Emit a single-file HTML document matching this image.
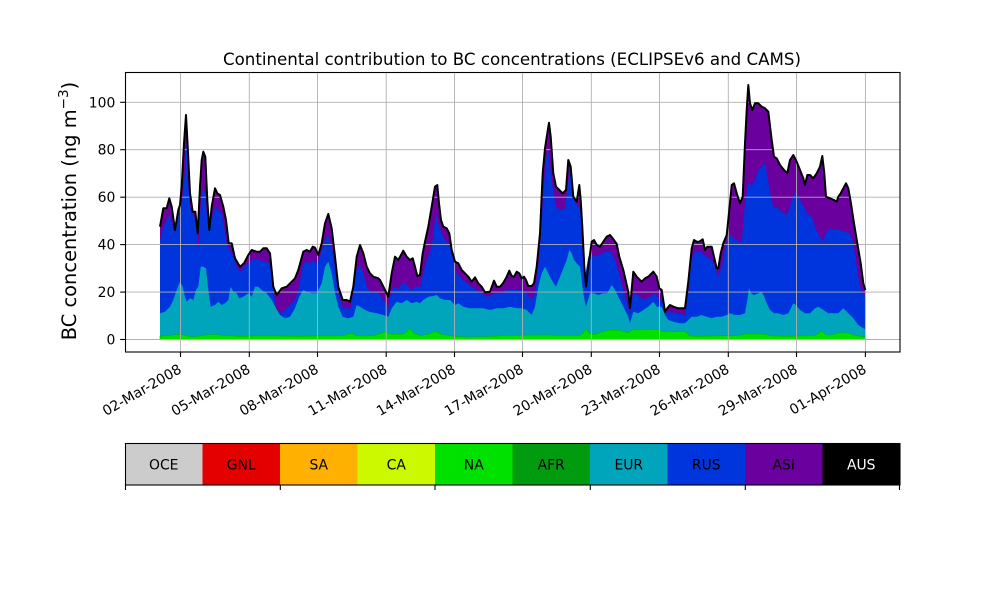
<!DOCTYPE html>
<html>
<head>
<meta charset="utf-8">
<style>
html,body{margin:0;padding:0;background:#fff;}
svg{display:block;}
text{font-family:"DejaVu Sans","Liberation Sans",sans-serif;}
</style>
</head>
<body>
<svg width="1000" height="600" viewBox="0 0 1000 600" xmlns="http://www.w3.org/2000/svg">
<rect x="0" y="0" width="1000" height="600" fill="#fff"/>

<!-- title -->
<text x="512" y="65" font-size="16.67" text-anchor="middle" fill="#000">Continental contribution to BC concentrations (ECLIPSEv6 and CAMS)</text>

<!-- stacked areas -->
<g>
<path fill="#6a009d" d="M160,339.5 L160,226.7 163.3,208.3 166.7,208.3 169.3,198.3 171.7,206.7 175,230 178.3,210 180,205 181.7,186.7 184,143.3 186,115 187.7,146.7 190,193.3 192.7,211.7 195.3,211.7 197.7,233.3 200,186.7 201.7,160 203.3,151.7 205.3,156.7 207.3,200 209.3,230 211.7,206.7 215,188.3 217.3,193.3 220,195 223.3,206.7 226,220 228.7,243.3 231.7,243.3 235,258.3 240,266.7 244,263.3 248.3,255 251.7,250 256.7,251.7 260,251.7 263.3,248.3 266.7,248.3 270,253.3 273.3,286.7 276.7,295 281.7,288.3 286.7,286.7 291.7,281.7 295,278.3 298.3,270 303.3,251.7 306.7,250 310,251.7 312.7,246.7 315,247.7 318.3,255 321.7,243.3 325,223.3 328.3,214 331.7,228.3 335,256.7 338.3,286.7 342.7,300 346.7,300 350,301.7 353.3,286.7 356.7,256.7 360,245 363.3,253.3 366.7,266.7 370,273.3 373.3,276.7 378.3,278.3 380,280 385,290 388.3,296.7 391.7,273.3 395,256.7 398.3,260 403.3,250.7 406.7,256.7 410,260 412.7,258.3 415,266.7 417.3,276 420,275 422.7,253.3 425,241.7 428.3,226.7 431.7,206.7 435,186.7 437.3,185 439,203.3 441,220 443.3,226.7 446.7,228.3 449.3,233.3 451.7,250 455,261.7 458.3,263.3 461.7,270 465,273.3 468.3,276.7 471.7,281.7 475,277.3 478.3,283.3 481.7,286.7 485,292.3 490,291.7 494,280.7 496.7,286.7 500,286.7 503.3,282.7 506.7,276.7 509.3,270.7 511.7,276 514,276.7 516.7,271.7 519.3,273.3 521.7,278.3 524,276.7 526,280 528.3,286 531.7,286 534,283.3 536.7,266.7 540,233.3 542.7,173.3 545,148.3 547.3,133.3 549,122.7 550.7,136.7 553.3,173.3 556,186.7 559.3,190 562.7,193.3 566,190 568.3,160 570.7,166.7 573.3,196.7 576.7,201.7 579.3,185 580.7,200 582.3,226.7 584.3,266.7 586,286.7 588.3,266.7 591.7,241.7 594,240 596.7,245 600,246.7 603.3,241.7 606.7,236.7 610,235 612.7,238.3 616.7,244 619.3,256.7 623.3,270 628.3,291.7 630,308 633.3,271.7 636.7,276.7 641.7,281.7 645,278.3 648.3,276.7 653.3,271.7 656.7,276.7 659.3,288.3 661.7,290 665,311.7 667.3,308.3 670,305 673.3,306.7 678.3,308.3 685,308.3 688.3,281.7 691.7,248.3 694,240 696.7,241.7 699.3,241.7 702.7,239.3 705,250 707.3,246.7 711.7,246.7 714,256.7 716.7,268.3 718.3,268.3 720.7,253.3 723.3,243.3 726.7,235 729.3,210 731.7,185 734,183.3 736.7,193.3 740,203.3 742.7,196.7 745,143.3 746.7,110 748.3,85 750,103.3 752.3,110 755,103.3 758.3,103.3 761.7,106.7 765,108.3 768.3,111.7 771.7,140 774,156.7 776.7,158.3 780,165 784,170 787.3,173.3 790,160 793.3,155 796.7,161.7 800,170 803.3,178.3 805,185 807.3,175 810,175 813.3,178.3 816.7,173.3 820,166.7 822.3,156 824.3,173.3 826,196.7 830,198.3 834,200 836.7,201.7 838.3,196.7 840.7,193.3 843.3,188.3 846,183.3 848.3,188.3 850.7,201.7 854,223.3 857.3,243.3 860.7,263.3 863.3,283.3 865.3,290 L865.3,339.5 Z"/>
<path fill="#0035dd" d="M160,339.5 L160,241.7 163.3,228.3 166.7,220 169.3,215 171.7,223.3 175,233.3 178.3,216.7 180,211.7 181.7,206.7 183.3,190 185,170 186.7,140 188.3,186.7 190,206.7 191.7,211.7 194,216.7 196.7,230 198.7,248.3 200,216.7 201.7,196.7 203.3,186.7 205,193.3 207.3,220 209.3,230 211.7,220 215,206.7 218.3,210 221.7,213.3 225,233.3 227.3,246.7 230,250 233.3,256.7 236.7,266.7 240,271.7 244,266.7 248.3,263.3 251.7,260 255,259.3 260,260 265,261.7 270,263.3 273.3,290 276.7,310 281.7,313.3 286.7,308.3 291.7,303.3 295,300 298.3,290 303.3,263.3 306.7,261.7 310,263.3 313.3,260 316.7,263.3 320,256.7 325,240 328.3,235 331.7,246.7 335,266.7 338.3,293.3 342.7,308.3 346.7,306.7 350,310 353.3,293.3 356.7,270 360,265 363.3,273.3 366.7,286.7 371.7,293.3 376.7,291.7 380,295 383.3,300 388.3,308.3 391.7,290 395,286.7 398.3,290 401.7,283.3 405,283.3 408.3,286.7 411.7,290 415,286.7 420,286.7 423.3,273.3 426.7,260 430,253.3 433.3,236.7 435.7,213.3 438.3,223.3 441.7,233.3 445,240 450,246.7 453.3,260 456.7,273.3 461.7,278.3 466.7,283.3 471.7,286.7 476.7,290 481.7,293.3 486.7,296.7 491.7,295 496.7,293.3 501.7,293.3 506.7,290 511.7,290 516.7,290 521.7,290 526.7,293.3 531.7,300 535,293.3 538.3,266.7 540.7,240 543.3,193.3 546,160 547.7,146.7 550,166.7 552.7,186.7 556,206.7 560,210 565,208.3 568.3,183.3 570,170 572.7,193.3 575,200 577.3,206.7 580,206.7 582.3,233.3 585,276.7 588.3,256.7 591.7,255 596.7,256.7 601.7,253.3 606.7,251.7 610.7,251.7 615,260 620,276.7 625,296.7 630,313.3 633.3,293.3 638.3,295 643.3,300 650,296.7 655,293.3 660,300 663.3,303.3 665,313.3 670,311.7 676.7,313.3 685,315 688.3,293.3 691.7,260 695,251.7 700,251.7 702.7,253.3 706.7,256.7 711.7,260 715,266.7 718.3,276.7 721.7,266.7 725,250 728.3,233.3 731.7,236.7 736.7,240 741.7,243.3 745,203.3 748.3,183.3 751.7,185 755,180 758.3,170 761.7,166.7 765,163.3 768.3,183.3 771.7,200 774,208.3 776.7,206.7 781.7,211.7 786.7,215 790,206.7 793.3,196.7 796,190 800,200 804,206.7 806.7,213.3 811.7,216.7 816,230 820,236.7 822.7,241.7 826.7,231.7 830,228.3 835,230 840,230 845,231.7 850,233.3 853.3,243.3 856.7,266.7 860,286.7 863.3,293.3 865.3,296.7 L865.3,339.5 Z"/>
<path fill="#00a4bb" d="M160,339.5 L160,313.3 165,311.7 170,306.7 173.3,300 176.7,290 180,281.7 182.7,286.7 185,296.7 186.7,301.7 190,298.3 193.3,300 196,290 198.3,286.7 200.7,266.7 203.3,266.7 206,268.3 208.3,290 210.7,306.7 215,305 218.3,301.7 221.7,305 225,303.3 228.3,300 230.7,286.7 233.3,291.7 236.7,293.3 239.3,298.3 243.3,296.7 248.3,293.3 251.7,296.7 255,286.7 258.3,286.7 261.7,290 266.7,293.3 271.7,300 276,308.3 280,315 285,318.3 290,316.7 295,308.3 299.3,296.7 303.3,290 306.7,291.7 311.7,293.3 316.7,293.3 321.7,283.3 325,266.7 328.3,261.7 331.7,273.3 335,293.3 338.3,306.7 342.7,316.7 348.3,318.3 353.3,316.7 356.7,305 360,306.7 365,310 370,312 376.7,313.3 383.3,315 388.3,316.7 391.7,308.3 396.7,301.7 401.7,303.3 406.7,300 411.7,303.3 416.7,301.7 420,303.3 423.3,300 428.3,296.7 433.3,296 436.7,295 440,298.3 445,300 450,300 455,305 458.3,303.3 463.3,306.7 470,308.3 476.7,308.3 483.3,308.3 490,310 496.7,308.3 503.3,308.3 510,306.7 516.7,308.3 521.7,308.3 526.7,310 531.7,315 535,306.7 538.3,286.7 541.7,273.3 545,266.7 548.3,273.3 551.7,280 556,286.7 560,276.7 564,266.7 566.7,260 569.3,250 571.7,253.3 574,260 576.7,263.3 580,266.7 583.3,293.3 586,306.7 590,293.3 594,293.3 598.3,295 603.3,293.3 607.3,293.3 611.7,285 615,290 618.3,296.7 623.3,306.7 628.3,316.7 630,323.3 633.3,311.7 638.3,313.3 643.3,310 648.3,306.7 653.3,301.7 656.7,306.7 661.7,306.7 665,315 668.3,320 673.3,321.7 680,323.3 685,323.3 688.3,320 691.7,316.7 696.7,316.7 701.7,315 706.7,316.7 711.7,318.3 716.7,316.7 721.7,316.7 726.7,315 730,313.3 735,315 740,315 745,313.3 747.3,300 749,288.3 751,293.3 754,295 758.3,293.3 761.7,291.7 764.3,296.7 766.7,303.3 770,310 774,313.3 778.3,313.3 783.3,315 788.3,313.3 793.3,303.3 796,305 800,310 805,313.3 810,313.3 815,308.3 818.3,306.7 823.3,310 828.3,313.3 833.3,313.3 838.3,313.3 843.3,308.3 848.3,313.3 853.3,318.3 858.3,325 863.3,328.3 865.3,329.3 L865.3,339.5 Z"/>
<path fill="#00e100" stroke="#00b400" stroke-width="0.6" d="M160,339.5 L160,336.3 166,335.8 173,335 180,334.3 186,335.5 192,337 197,336.3 205,335 215,334.5 225,335.5 240,336.3 260,335.8 280,336 300,336.3 320,335.8 335,336 345,335.2 352,333 356,335.5 365,336 375,335.3 385,331.7 390,334 400,334.5 405,333 410,328.5 414,333.5 420,335.5 428,334.5 433,332 437,331.7 442,334.5 455,336.3 470,337 490,336.5 505,335.5 520,335.2 535,335 550,335 565,335.5 580,335.2 584,332 586,328.5 589,333 595,334.5 603,331.5 610,330 620,330.5 628,332.8 632,330 645,329.5 658,329.5 662,331.5 675,331.5 686,332 690,336 700,336.3 720,335.8 740,335.3 745,334 755,334 765,334.3 772,335.8 785,336.3 800,336 815,335.5 822,331 826,335 832,335 838,333 845,332.5 852,334.5 860,336.3 865.3,337 L865.3,339.5 Z"/>
<rect x="160" y="339" width="705.3" height="1.3" fill="#d6cc88"/>
</g>

<!-- grid -->
<g stroke="#b0b0b0" stroke-width="0.9" fill="none">
<line x1="180.5" y1="72" x2="180.5" y2="352"/>
<line x1="249.3" y1="72" x2="249.3" y2="352"/>
<line x1="317.5" y1="72" x2="317.5" y2="352"/>
<line x1="386.2" y1="72" x2="386.2" y2="352"/>
<line x1="454.5" y1="72" x2="454.5" y2="352"/>
<line x1="522.5" y1="72" x2="522.5" y2="352"/>
<line x1="591.3" y1="72" x2="591.3" y2="352"/>
<line x1="659.5" y1="72" x2="659.5" y2="352"/>
<line x1="728.3" y1="72" x2="728.3" y2="352"/>
<line x1="796.5" y1="72" x2="796.5" y2="352"/>
<line x1="865.4" y1="72" x2="865.4" y2="352"/>
<line x1="125" y1="339.5" x2="900" y2="339.5"/>
<line x1="125" y1="292.1" x2="900" y2="292.1"/>
<line x1="125" y1="244.6" x2="900" y2="244.6"/>
<line x1="125" y1="197.2" x2="900" y2="197.2"/>
<line x1="125" y1="149.7" x2="900" y2="149.7"/>
<line x1="125" y1="102.3" x2="900" y2="102.3"/>
</g>

<!-- total line -->
<polyline fill="none" stroke="#000" stroke-width="2" stroke-linejoin="round" points="160,226.7 163.3,208.3 166.7,208.3 169.3,198.3 171.7,206.7 175,230 178.3,210 180,205 181.7,186.7 184,143.3 186,115 187.7,146.7 190,193.3 192.7,211.7 195.3,211.7 197.7,233.3 200,186.7 201.7,160 203.3,151.7 205.3,156.7 207.3,200 209.3,230 211.7,206.7 215,188.3 217.3,193.3 220,195 223.3,206.7 226,220 228.7,243.3 231.7,243.3 235,258.3 240,266.7 244,263.3 248.3,255 251.7,250 256.7,251.7 260,251.7 263.3,248.3 266.7,248.3 270,253.3 273.3,286.7 276.7,295 281.7,288.3 286.7,286.7 291.7,281.7 295,278.3 298.3,270 303.3,251.7 306.7,250 310,251.7 312.7,246.7 315,247.7 318.3,255 321.7,243.3 325,223.3 328.3,214 331.7,228.3 335,256.7 338.3,286.7 342.7,300 346.7,300 350,301.7 353.3,286.7 356.7,256.7 360,245 363.3,253.3 366.7,266.7 370,273.3 373.3,276.7 378.3,278.3 380,280 385,290 388.3,296.7 391.7,273.3 395,256.7 398.3,260 403.3,250.7 406.7,256.7 410,260 412.7,258.3 415,266.7 417.3,276 420,275 422.7,253.3 425,241.7 428.3,226.7 431.7,206.7 435,186.7 437.3,185 439,203.3 441,220 443.3,226.7 446.7,228.3 449.3,233.3 451.7,250 455,261.7 458.3,263.3 461.7,270 465,273.3 468.3,276.7 471.7,281.7 475,277.3 478.3,283.3 481.7,286.7 485,292.3 490,291.7 494,280.7 496.7,286.7 500,286.7 503.3,282.7 506.7,276.7 509.3,270.7 511.7,276 514,276.7 516.7,271.7 519.3,273.3 521.7,278.3 524,276.7 526,280 528.3,286 531.7,286 534,283.3 536.7,266.7 540,233.3 542.7,173.3 545,148.3 547.3,133.3 549,122.7 550.7,136.7 553.3,173.3 556,186.7 559.3,190 562.7,193.3 566,190 568.3,160 570.7,166.7 573.3,196.7 576.7,201.7 579.3,185 580.7,200 582.3,226.7 584.3,266.7 586,286.7 588.3,266.7 591.7,241.7 594,240 596.7,245 600,246.7 603.3,241.7 606.7,236.7 610,235 612.7,238.3 616.7,244 619.3,256.7 623.3,270 628.3,291.7 630,308 633.3,271.7 636.7,276.7 641.7,281.7 645,278.3 648.3,276.7 653.3,271.7 656.7,276.7 659.3,288.3 661.7,290 665,311.7 667.3,308.3 670,305 673.3,306.7 678.3,308.3 685,308.3 688.3,281.7 691.7,248.3 694,240 696.7,241.7 699.3,241.7 702.7,239.3 705,250 707.3,246.7 711.7,246.7 714,256.7 716.7,268.3 718.3,268.3 720.7,253.3 723.3,243.3 726.7,235 729.3,210 731.7,185 734,183.3 736.7,193.3 740,203.3 742.7,196.7 745,143.3 746.7,110 748.3,85 750,103.3 752.3,110 755,103.3 758.3,103.3 761.7,106.7 765,108.3 768.3,111.7 771.7,140 774,156.7 776.7,158.3 780,165 784,170 787.3,173.3 790,160 793.3,155 796.7,161.7 800,170 803.3,178.3 805,185 807.3,175 810,175 813.3,178.3 816.7,173.3 820,166.7 822.3,156 824.3,173.3 826,196.7 830,198.3 834,200 836.7,201.7 838.3,196.7 840.7,193.3 843.3,188.3 846,183.3 848.3,188.3 850.7,201.7 854,223.3 857.3,243.3 860.7,263.3 863.3,283.3 865.3,290"/>

<!-- axes frame -->
<rect x="125.5" y="72.5" width="774.5" height="279.5" fill="none" stroke="#000" stroke-width="1.1"/>

<!-- y ticks -->
<g stroke="#000" stroke-width="1.1">
<line x1="120.2" y1="339.5" x2="125" y2="339.5"/>
<line x1="120.2" y1="292.1" x2="125" y2="292.1"/>
<line x1="120.2" y1="244.6" x2="125" y2="244.6"/>
<line x1="120.2" y1="197.2" x2="125" y2="197.2"/>
<line x1="120.2" y1="149.7" x2="125" y2="149.7"/>
<line x1="120.2" y1="102.3" x2="125" y2="102.3"/>
</g>
<g font-size="13.9" text-anchor="end" fill="#000">
<text x="115.3" y="344.5">0</text>
<text x="115.3" y="297.1">20</text>
<text x="115.3" y="249.6">40</text>
<text x="115.3" y="202.2">60</text>
<text x="115.3" y="154.7">80</text>
<text x="115.3" y="107.3">100</text>
</g>

<!-- x ticks -->
<g stroke="#000" stroke-width="1.1">
<line x1="180.5" y1="352" x2="180.5" y2="357"/>
<line x1="249.3" y1="352" x2="249.3" y2="357"/>
<line x1="317.5" y1="352" x2="317.5" y2="357"/>
<line x1="386.2" y1="352" x2="386.2" y2="357"/>
<line x1="454.5" y1="352" x2="454.5" y2="357"/>
<line x1="522.5" y1="352" x2="522.5" y2="357"/>
<line x1="591.3" y1="352" x2="591.3" y2="357"/>
<line x1="659.5" y1="352" x2="659.5" y2="357"/>
<line x1="728.3" y1="352" x2="728.3" y2="357"/>
<line x1="796.5" y1="352" x2="796.5" y2="357"/>
<line x1="865.4" y1="352" x2="865.4" y2="357"/>
</g>
<g font-size="13.9" text-anchor="end" fill="#000">
<text x="182.5" y="372" transform="rotate(-30 182.5 372)">02-Mar-2008</text>
<text x="251.3" y="372" transform="rotate(-30 251.3 372)">05-Mar-2008</text>
<text x="319.5" y="372" transform="rotate(-30 319.5 372)">08-Mar-2008</text>
<text x="388.2" y="372" transform="rotate(-30 388.2 372)">11-Mar-2008</text>
<text x="456.5" y="372" transform="rotate(-30 456.5 372)">14-Mar-2008</text>
<text x="524.5" y="372" transform="rotate(-30 524.5 372)">17-Mar-2008</text>
<text x="593.3" y="372" transform="rotate(-30 593.3 372)">20-Mar-2008</text>
<text x="661.5" y="372" transform="rotate(-30 661.5 372)">23-Mar-2008</text>
<text x="730.3" y="372" transform="rotate(-30 730.3 372)">26-Mar-2008</text>
<text x="798.5" y="372" transform="rotate(-30 798.5 372)">29-Mar-2008</text>
<text x="867.4" y="372" transform="rotate(-30 867.4 372)">01-Apr-2008</text>
</g>

<!-- y label -->
<text x="76" y="211" font-size="19.44" text-anchor="middle" fill="#000" transform="rotate(-90 76 211)">BC concentration (ng m<tspan font-size="13.6" dy="-8">−3</tspan><tspan dy="8">)</tspan></text>

<!-- colorbar legend -->
<g>
<rect x="125" y="443" width="77.5" height="42" fill="#cccccc"/>
<rect x="202.5" y="443" width="77.5" height="42" fill="#e50000"/>
<rect x="280" y="443" width="77.5" height="42" fill="#ffb000"/>
<rect x="357.5" y="443" width="77.5" height="42" fill="#ccf900"/>
<rect x="435" y="443" width="77.5" height="42" fill="#00e100"/>
<rect x="512.5" y="443" width="77.5" height="42" fill="#009b0f"/>
<rect x="590" y="443" width="77.5" height="42" fill="#00a4bb"/>
<rect x="667.5" y="443" width="77.5" height="42" fill="#0035dd"/>
<rect x="745" y="443" width="77.5" height="42" fill="#6a009d"/>
<rect x="822.5" y="443" width="77.5" height="42" fill="#000000"/>
<rect x="125.5" y="443.5" width="774.5" height="41.5" fill="none" stroke="#000" stroke-width="1.1"/>
</g>
<g stroke="#000" stroke-width="1.1">
<line x1="125.5" y1="485" x2="125.5" y2="490"/>
<line x1="280.3" y1="485" x2="280.3" y2="490"/>
<line x1="435" y1="485" x2="435" y2="490"/>
<line x1="590.3" y1="485" x2="590.3" y2="490"/>
<line x1="745.3" y1="485" x2="745.3" y2="490"/>
<line x1="899.5" y1="485" x2="899.5" y2="490"/>
</g>
<g font-size="13.9" text-anchor="middle" fill="#000">
<text x="163.75" y="469.3">OCE</text>
<text x="241.25" y="469.3">GNL</text>
<text x="318.75" y="469.3">SA</text>
<text x="396.25" y="469.3">CA</text>
<text x="473.75" y="469.3">NA</text>
<text x="551.25" y="469.3">AFR</text>
<text x="628.75" y="469.3">EUR</text>
<text x="706.25" y="469.3">RUS</text>
<text x="783.75" y="469.3">ASI</text>
<text x="861.25" y="469.3" fill="#fff">AUS</text>
</g>
</svg>
</body>
</html>
